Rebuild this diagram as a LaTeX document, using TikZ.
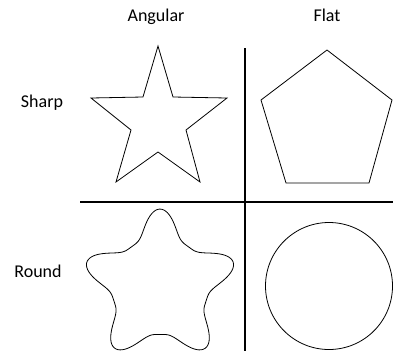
\documentclass[tikz,border=0pt]{standalone}
\usepackage{fontspec}
\setmainfont{Carlito}
\usetikzlibrary{positioning}

\begin{document}
\begin{tikzpicture}[
    x=1pt, y=-1pt,
    lbl/.style={font=\fontsize{18}{22}\selectfont, inner sep=0pt, anchor=base},
    divider/.style={line width=1.6pt},
    outline/.style={line width=0.8pt, line join=miter}
  ]
  \useasboundingbox (0,0) rectangle (393,354);
  % column and row labels
  \node[lbl] (angular) at (156,21) {Angular};
  \node[lbl] (flat) at (327,21) {Flat};
  \node[lbl] (sharp) at (42,107) {Sharp};
  \node[lbl] (round) at (38,277) {Round};
  % dividing lines
  \coordinate (vtop) at (245,48);
  \coordinate (vbot) at (245,351);
  \coordinate (hleft) at (80,202);
  \coordinate (hright) at (393,202);
  \draw[divider] (vtop) -- (vbot);
  \draw[divider] (hleft) -- (hright);
  % sharp + angular: star
  \draw[outline] (158,46) -- (173,97) -- (227,98) -- (186,130) -- (200,182)
    -- (158,152) -- (116,182) -- (131,130) -- (91,98) -- (143,97) -- cycle;
  % sharp + flat: pentagon
  \draw[outline] (327,50) -- (392,100) -- (369,183) -- (286,183) -- (261,100) -- cycle;
  % round + angular: soft star
  \draw[outline] plot[domain=0:360, samples=240, smooth]
    ({160+(59.5+14.25*cos(5*(\x-90))+3.2*cos(10*(\x-90)))*cos(\x)},
     {286-(59.5+14.25*cos(5*(\x-90))+3.2*cos(10*(\x-90)))*sin(\x)}) -- cycle;
  % round + flat: circle
  \draw[outline] (329,286) circle[radius=63.5pt];
\end{tikzpicture}
\end{document}
